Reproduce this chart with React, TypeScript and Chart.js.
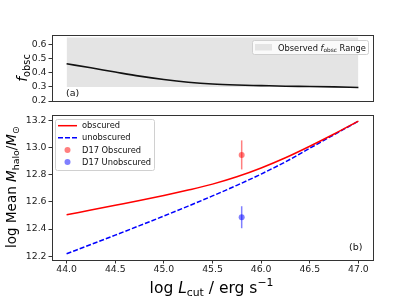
import React, { useEffect, useRef } from "react";
import { Chart, registerables } from "chart.js";

Chart.register(...registerables);

// ---------------- data ----------------
const xGrid = [44.0, 44.25, 44.5, 44.75, 45.0, 45.25, 45.5, 45.75, 46.0, 46.25, 46.5, 46.75, 47.0];
const fObsc = [0.464, 0.435, 0.405, 0.376, 0.352, 0.333, 0.32, 0.313, 0.309, 0.305, 0.303, 0.3, 0.296];
const mhaloObscured = [12.505, 12.54, 12.575, 12.61, 12.647, 12.687, 12.731, 12.785, 12.85, 12.925, 13.01, 13.1, 13.195];
const mhaloUnobscured = [12.218, 12.286, 12.355, 12.425, 12.496, 12.569, 12.644, 12.722, 12.805, 12.895, 12.995, 13.095, 13.195];

const obsRangeX = [44.0, 47.0];
const obsRangeLow = [0.3, 0.3];
const obsRangeHigh = [0.65, 0.65];

const d17X = [45.8];
const d17Obscured = [12.946];
const d17ObscuredErr = [0.107];
const d17Unobscured = [12.487];
const d17UnobscuredErr = [0.081];

const xTicks = [44.0, 44.5, 45.0, 45.5, 46.0, 46.5, 47.0];
const yTicksTop = [0.2, 0.3, 0.4, 0.5, 0.6];
const yTicksBottom = [12.2, 12.4, 12.6, 12.8, 13.0, 13.2];

// ---------------- helpers ----------------
const FONT = "'DejaVu Sans', 'Liberation Sans', sans-serif";
const W = 415;
const H = 297;
const LEG_FONT = 8.3;

type Seg = { t: string; it?: boolean; sub?: boolean; sup?: boolean };

function drawRich(
  ctx: CanvasRenderingContext2D,
  segs: Seg[],
  x: number,
  y: number,
  size: number,
  rotate: boolean,
  align: "center" | "left" = "center",
  color = "#000"
) {
  ctx.save();
  ctx.translate(x, y);
  if (rotate) ctx.rotate(-Math.PI / 2);
  const parts = segs.map((s) => {
    const sz = s.sub || s.sup ? size * 0.7 : size;
    const font = `${s.it ? "italic " : ""}${sz}px ${FONT}`;
    ctx.font = font;
    const w = ctx.measureText(s.t).width;
    const dy = s.sub ? size * 0.22 : s.sup ? -size * 0.42 : 0;
    return { font, w, dy, t: s.t };
  });
  const total = parts.reduce((a, p) => a + p.w, 0);
  let cx = align === "center" ? -total / 2 : 0;
  ctx.textBaseline = "alphabetic";
  ctx.textAlign = "left";
  ctx.fillStyle = color;
  for (const p of parts) {
    ctx.font = p.font;
    ctx.fillText(p.t, cx, p.dy);
    cx += p.w;
  }
  ctx.restore();
}

function boxPlugin(extra: (ctx: CanvasRenderingContext2D, chart: any) => void) {
  return {
    id: "boxExtra",
    afterDraw(chart: any) {
      const ctx = chart.ctx as CanvasRenderingContext2D;
      const a = chart.chartArea;
      ctx.save();
      ctx.strokeStyle = "#333";
      ctx.lineWidth = 1;
      ctx.strokeRect(
        Math.round(a.left) + 0.5,
        Math.round(a.top) + 0.5,
        Math.round(a.right) - Math.round(a.left),
        Math.round(a.bottom) - Math.round(a.top)
      );
      ctx.restore();
      extra(ctx, chart);
    },
  };
}

const tickFont = { family: FONT, size: 9.3 };
const X_MIN = 43.85;
const X_MAX = 47.15;

function pts(xs: number[], ys: number[]) {
  return xs.map((x, i) => ({ x, y: ys[i] }));
}

// ---------------- top panel ----------------
function TopPanel() {
  const ref = useRef<HTMLCanvasElement | null>(null);
  useEffect(() => {
    if (!ref.current) return;
    const chart = new Chart(ref.current, {
      type: "line",
      data: {
        datasets: [
          {
            data: pts(obsRangeX, obsRangeLow),
            borderWidth: 0,
            pointRadius: 0,
            fill: false,
            borderColor: "rgba(0,0,0,0)",
            order: 3,
          },
          {
            data: pts(obsRangeX, obsRangeHigh),
            borderWidth: 0,
            pointRadius: 0,
            fill: "-1",
            borderColor: "rgba(0,0,0,0)",
            backgroundColor: "#e4e4e4",
            order: 2,
          },
          {
            data: pts(xGrid, fObsc),
            borderColor: "#111",
            borderWidth: 1.6,
            pointRadius: 0,
            fill: false,
            cubicInterpolationMode: "monotone",
            order: 0,
          },
        ],
      } as any,
      options: {
        responsive: false,
        animation: false,
        devicePixelRatio: 1,
        layout: { padding: { left: 0, right: W - 373, top: 35, bottom: H - 101 } },
        plugins: { legend: { display: false }, tooltip: { enabled: false } },
        scales: {
          x: { type: "linear", min: X_MIN, max: X_MAX, display: false },
          y: {
            type: "linear",
            min: 0.2,
            max: 0.6675,
            afterBuildTicks: (s: any) => {
              s.ticks = yTicksTop.map((v) => ({ value: v }));
            },
            afterFit: (s: any) => {
              s.width = 52;
            },
            ticks: {
              font: tickFont,
              color: "#222",
              padding: 2,
              callback: (v: any) => Number(v).toFixed(1),
            },
            grid: { drawOnChartArea: false, tickLength: 3.5, tickColor: "#333" },
            border: { display: false },
          },
        },
      } as any,
      plugins: [
        boxPlugin((ctx) => {
          drawRich(ctx, [{ t: "f", it: true }, { t: "obsc", sub: true }], 26.5, 68, 14, true);
          ctx.save();
          ctx.font = `9.5px ${FONT}`;
          ctx.fillStyle = "#111";
          ctx.textBaseline = "alphabetic";
          ctx.fillText("(a)", 66, 95.5);
          ctx.restore();
          // legend
          ctx.save();
          ctx.beginPath();
          (ctx as any).roundRect(252.5, 40.5, 116, 14, 2);
          ctx.fillStyle = "rgba(255,255,255,0.8)";
          ctx.fill();
          ctx.strokeStyle = "#d0d0d0";
          ctx.lineWidth = 1;
          ctx.stroke();
          ctx.fillStyle = "#e4e4e4";
          ctx.fillRect(255, 44, 17, 6.5);
          ctx.restore();
          drawRich(
            ctx,
            [{ t: "Observed " }, { t: "f", it: true }, { t: "obsc", sub: true }, { t: " Range" }],
            278,
            50.5,
            LEG_FONT,
            false,
            "left",
            "#111"
          );
        }),
      ],
    });
    return () => chart.destroy();
  }, []);
  return (
    <canvas
      ref={ref}
      width={W}
      height={H}
      style={{ position: "absolute", left: 0, top: 0, width: W, height: H }}
    />
  );
}

// ---------------- bottom panel ----------------
function BottomPanel() {
  const ref = useRef<HTMLCanvasElement | null>(null);
  useEffect(() => {
    if (!ref.current) return;
    const red = "#ff0000";
    const blue = "#0000ff";
    const redA = "rgba(255,0,0,0.5)";
    const blueA = "rgba(0,0,255,0.5)";
    const chart = new Chart(ref.current, {
      type: "line",
      data: {
        datasets: [
          {
            label: "obscured",
            data: pts(xGrid, mhaloObscured),
            borderColor: red,
            borderWidth: 1.5,
            pointRadius: 0,
            fill: false,
            cubicInterpolationMode: "monotone",
          },
          {
            label: "unobscured",
            data: pts(xGrid, mhaloUnobscured),
            borderColor: blue,
            borderWidth: 1.5,
            borderDash: [5, 2],
            pointRadius: 0,
            fill: false,
            cubicInterpolationMode: "monotone",
          },
          {
            label: "D17 Obscured err",
            data: [
              { x: d17X[0], y: d17Obscured[0] - d17ObscuredErr[0] },
              { x: d17X[0], y: d17Obscured[0] + d17ObscuredErr[0] },
            ],
            borderColor: redA,
            borderWidth: 1.5,
            pointRadius: 0,
            fill: false,
          },
          {
            label: "D17 Unobscured err",
            data: [
              { x: d17X[0], y: d17Unobscured[0] - d17UnobscuredErr[0] },
              { x: d17X[0], y: d17Unobscured[0] + d17UnobscuredErr[0] },
            ],
            borderColor: blueA,
            borderWidth: 1.5,
            pointRadius: 0,
            fill: false,
          },
          {
            label: "D17 Obscured",
            data: pts(d17X, d17Obscured),
            showLine: false,
            pointRadius: 3,
            pointBorderWidth: 0,
            pointBackgroundColor: redA,
            borderColor: redA,
          },
          {
            label: "D17 Unobscured",
            data: pts(d17X, d17Unobscured),
            showLine: false,
            pointRadius: 3,
            pointBorderWidth: 0,
            pointBackgroundColor: blueA,
            borderColor: blueA,
          },
        ],
      } as any,
      options: {
        responsive: false,
        animation: false,
        devicePixelRatio: 1,
        layout: { padding: { left: 0, right: W - 373, top: 115, bottom: 17 } },
        plugins: { legend: { display: false }, tooltip: { enabled: false } },
        scales: {
          x: {
            type: "linear",
            min: X_MIN,
            max: X_MAX,
            afterBuildTicks: (s: any) => {
              s.ticks = xTicks.map((v) => ({ value: v }));
            },
            afterFit: (s: any) => {
              s.height = 20;
            },
            ticks: {
              font: tickFont,
              color: "#222",
              padding: 1,
              maxRotation: 0,
              callback: (v: any) => Number(v).toFixed(1),
            },
            grid: { drawOnChartArea: false, tickLength: 3.5, tickColor: "#333" },
            border: { display: false },
          },
          y: {
            type: "linear",
            min: 12.172,
            max: 13.24,
            afterBuildTicks: (s: any) => {
              s.ticks = yTicksBottom.map((v) => ({ value: v }));
            },
            afterFit: (s: any) => {
              s.width = 52;
            },
            ticks: {
              font: tickFont,
              color: "#222",
              padding: 2,
              callback: (v: any) => Number(v).toFixed(1),
            },
            grid: { drawOnChartArea: false, tickLength: 3.5, tickColor: "#333" },
            border: { display: false },
          },
        },
      } as any,
      plugins: [
        boxPlugin((ctx) => {
          drawRich(
            ctx,
            [
              { t: "log Mean " },
              { t: "M", it: true },
              { t: "halo", sub: true },
              { t: "/" },
              { t: "M", it: true },
              { t: "\u2299", sub: true },
            ],
            16,
            187,
            13.5,
            true
          );
          drawRich(
            ctx,
            [
              { t: "log " },
              { t: "L", it: true },
              { t: "cut", sub: true },
              { t: " / erg s" },
              { t: "\u22121", sup: true },
            ],
            211.5,
            293,
            15.5,
            false
          );
          ctx.save();
          ctx.font = `9.5px ${FONT}`;
          ctx.fillStyle = "#111";
          ctx.fillText("(b)", 349, 250);
          ctx.restore();
          // legend
          ctx.save();
          ctx.beginPath();
          (ctx as any).roundRect(55.5, 119.5, 99, 51, 2);
          ctx.fillStyle = "rgba(255,255,255,0.8)";
          ctx.fill();
          ctx.strokeStyle = "#d0d0d0";
          ctx.lineWidth = 1;
          ctx.stroke();
          const rows = [125.7, 137.8, 150, 162.1];
          ctx.lineWidth = 1.5;
          ctx.strokeStyle = red;
          ctx.beginPath();
          ctx.moveTo(58, rows[0]);
          ctx.lineTo(77, rows[0]);
          ctx.stroke();
          ctx.strokeStyle = blue;
          ctx.setLineDash([5, 2]);
          ctx.beginPath();
          ctx.moveTo(58, rows[1]);
          ctx.lineTo(77, rows[1]);
          ctx.stroke();
          ctx.setLineDash([]);
          ctx.fillStyle = redA;
          ctx.beginPath();
          ctx.arc(67.5, rows[2], 3, 0, Math.PI * 2);
          ctx.fill();
          ctx.fillStyle = blueA;
          ctx.beginPath();
          ctx.arc(67.5, rows[3], 3, 0, Math.PI * 2);
          ctx.fill();
          ctx.fillStyle = "#111";
          ctx.font = `${LEG_FONT}px ${FONT}`;
          ctx.textBaseline = "middle";
          ["obscured", "unobscured", "D17 Obscured", "D17 Unobscured"].forEach((t, i) =>
            ctx.fillText(t, 82, rows[i] + 0.5)
          );
          ctx.restore();
        }),
      ],
    });
    return () => chart.destroy();
  }, []);
  return (
    <canvas
      ref={ref}
      width={W}
      height={H}
      style={{ position: "absolute", left: 0, top: 0, width: W, height: H }}
    />
  );
}

export default function App() {
  return (
    <div style={{ position: "absolute", left: 0, top: 0, width: W, height: H, background: "#fff" }}>
      <TopPanel />
      <BottomPanel />
    </div>
  );
}
